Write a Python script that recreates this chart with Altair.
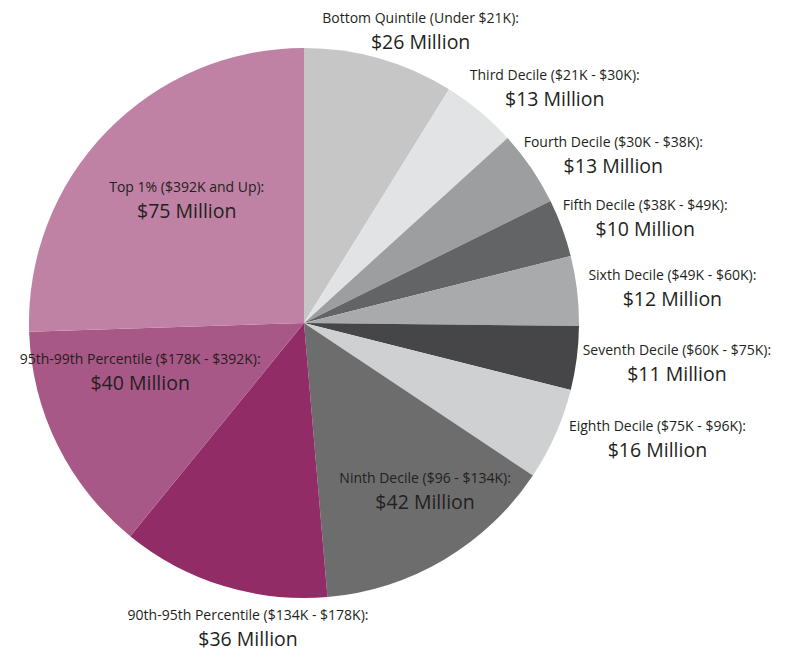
import altair as alt
import pandas as pd

# ---- data ----
groups = [
    "Bottom Quintile (Under $21K):",
    "Third Decile ($21K - $30K):",
    "Fourth Decile ($30K - $38K):",
    "Fifth Decile ($38K - $49K):",
    "Sixth Decile ($49K - $60K):",
    "Seventh Decile ($60K - $75K):",
    "Eighth Decile ($75K - $96K):",
    "Ninth Decile ($96 - $134K):",
    "90th-95th Percentile ($134K - $178K):",
    "95th-99th Percentile ($178K - $392K):",
    "Top 1% ($392K and Up):",
]
millions = [26, 13, 13, 10, 12, 11, 16, 42, 36, 40, 75]

# ---- styling / layout ----
colors = ["#c5c6c5", "#e2e3e4", "#9d9ea0", "#636466", "#a9aaac", "#464648",
          "#cfd0d2", "#6d6d6e", "#912c66", "#a85886", "#bf82a4"]
# label placement (polar: degrees clockwise from top, pixel radius)
label_angle = [21.8, 46.8, 61.5, 72.9, 84.6, 96.1, 108.2, 144.2, 190.4, 253.4, 316.4]
label_radius = [314, 344, 352, 357, 370, 375, 372, 207, 310, 171, 170]

df = pd.DataFrame({
    "group": groups,
    "value": millions,
    "idx": list(range(len(groups))),
    "label": [f"${v} Million" for v in millions],
    "la": label_angle,
    "lr": label_radius,
})

FONT = "Open Sans"
TXT = "#231f20"

base = alt.Chart(df)

pie = base.mark_arc(radius=275).encode(
    theta=alt.Theta("value:Q", stack=True),
    order=alt.Order("idx:Q"),
    color=alt.Color("group:N", scale=alt.Scale(domain=groups, range=colors), legend=None),
)

theta_lbl = alt.Theta("la:Q", stack=False,
                      scale=alt.Scale(domain=[0, 360], range=[0, 6.283185307]))
radius_lbl = alt.Radius("lr:Q", scale=None)

line1 = base.mark_text(font=FONT, fontSize=14, color=TXT, dy=-12,
                       align="center", baseline="middle").encode(
    theta=theta_lbl, radius=radius_lbl, text="group:N")

line2 = base.mark_text(font=FONT, fontSize=19.5, color=TXT, dy=12,
                       align="center", baseline="middle").encode(
    theta=theta_lbl, radius=radius_lbl, text="label:N")

labels = alt.layer(line1, line2)

chart = alt.layer(pie, labels).resolve_scale(theta="independent").properties(
    width=592, height=630,
    autosize=alt.AutoSizeParams(type="none"),
    padding={"left": 0, "top": 0, "right": 178, "bottom": 14},
).configure_view(stroke=None)

chart.save("out.html", embed_options={"renderer": "svg", "actions": False})
